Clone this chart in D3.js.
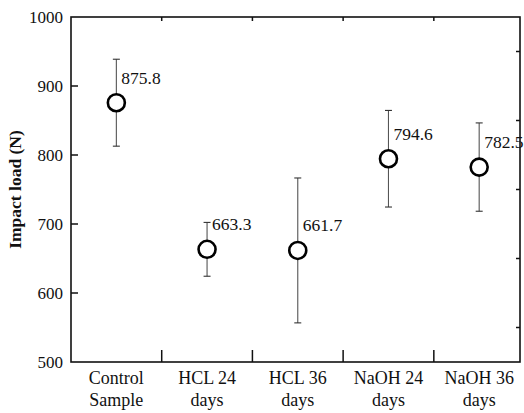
<!DOCTYPE html>
<html>
<head>
<meta charset="utf-8">
<script src="https://cdn.jsdelivr.net/npm/d3@7"></script>
<style>
  body { margin: 0; background: #fff; }
  text { font-family: "Liberation Serif", "Times New Roman", serif; fill: #111; }
</style>
</head>
<body>
<div id="chart"></div>
<script>
// samples and their impact load (mean and spread of the error bar)
var categories = [["Control", "Sample"], ["HCL 24", "days"], ["HCL 36", "days"], ["NaOH 24", "days"], ["NaOH 36", "days"]];
var means = [875.8, 663.3, 661.7, 794.6, 782.5];
var errors = [63, 39, 105, 70, 64];
var yTicks = [500, 600, 700, 800, 900, 1000];
var yMinorTicks = [550, 650, 750, 850, 950];

var margin = {top: 17, right: 4, bottom: 51, left: 71};
var width = 524 - margin.left - margin.right;
var height = 413 - margin.top - margin.bottom;

var svg = d3.select("#chart")
  .append("svg")
  .attr("width", width + margin.left + margin.right)
  .attr("height", height + margin.top + margin.bottom)
  .append("g")
  .attr("transform", "translate(" + margin.left + "," + margin.top + ")");

var x = d3.scaleLinear().domain([-0.5, 4.45]).range([0, width]);
var y = d3.scaleLinear().domain([500, 1000]).range([height, 0]);

var seps = d3.range(categories.length - 1).map(function(i) { return i + 0.5; });

// left axis labels; the ticks themselves point inward and are drawn below
var yAxis = d3.axisLeft(y).tickValues(yTicks).tickFormat(d3.format("d")).tickSize(0).tickPadding(8);
var gy = svg.append("g").call(yAxis).attr("font-family", null).attr("font-size", null);
gy.select(".domain").remove();
gy.selectAll("text").style("font-size", "17px").attr("fill", "#111");

svg.selectAll("line.ltick")
  .data(yTicks.slice(1, -1))
  .enter().append("line")
  .attr("class", "ltick")
  .attr("x1", 0).attr("x2", 7)
  .attr("y1", function(d) { return y(d); })
  .attr("y2", function(d) { return y(d); })
  .attr("stroke", "#111").attr("stroke-width", 1.5);

// right side minor ticks
svg.selectAll("line.rtick")
  .data(yMinorTicks)
  .enter().append("line")
  .attr("class", "rtick")
  .attr("x1", width - 4).attr("x2", width)
  .attr("y1", function(d) { return y(d); })
  .attr("y2", function(d) { return y(d); })
  .attr("stroke", "#111").attr("stroke-width", 1.5);

// category separators on bottom and top
svg.selectAll("line.btick")
  .data(seps)
  .enter().append("line")
  .attr("class", "btick")
  .attr("x1", function(d) { return x(d); })
  .attr("x2", function(d) { return x(d); })
  .attr("y1", height).attr("y2", height - 12)
  .attr("stroke", "#111").attr("stroke-width", 1.5);

svg.selectAll("line.ttick")
  .data(seps)
  .enter().append("line")
  .attr("class", "ttick")
  .attr("x1", function(d) { return x(d); })
  .attr("x2", function(d) { return x(d); })
  .attr("y1", 0).attr("y2", 4)
  .attr("stroke", "#111").attr("stroke-width", 1.5);

// frame
svg.append("rect")
  .attr("width", width)
  .attr("height", height)
  .attr("fill", "none")
  .attr("stroke", "#111")
  .attr("stroke-width", 1.6);

// category labels, two lines each
var cat = svg.selectAll("text.cat")
  .data(categories)
  .enter().append("text")
  .attr("class", "cat")
  .attr("text-anchor", "middle")
  .style("font-size", "18px")
  .attr("transform", function(d, i) { return "translate(" + x(i) + "," + (height + 22) + ")"; });

cat.append("tspan").attr("x", 0).attr("y", 0).text(function(d) { return d[0]; });
cat.append("tspan").attr("x", 0).attr("y", 22).text(function(d) { return d[1]; });

// y title
svg.append("text")
  .attr("transform", "translate(" + (-50) + "," + (height / 2) + ") rotate(-90)")
  .attr("text-anchor", "middle")
  .style("font-size", "17.5px")
  .style("font-weight", "bold")
  .text("Impact load (N)");

// error bars
var pts = svg.selectAll("g.pt")
  .data(means)
  .enter().append("g")
  .attr("class", "pt");

pts.append("line")
  .attr("x1", function(d, i) { return x(i); })
  .attr("x2", function(d, i) { return x(i); })
  .attr("y1", function(d, i) { return y(d + errors[i]); })
  .attr("y2", function(d, i) { return y(d - errors[i]); })
  .attr("stroke", "#555").attr("stroke-width", 1.1);

[1, -1].forEach(function(s) {
  pts.append("line")
    .attr("x1", function(d, i) { return x(i) - 3.5; })
    .attr("x2", function(d, i) { return x(i) + 3.5; })
    .attr("y1", function(d, i) { return y(d + s * errors[i]); })
    .attr("y2", function(d, i) { return y(d + s * errors[i]); })
    .attr("stroke", "#333").attr("stroke-width", 1.1);
});

pts.append("circle")
  .attr("cx", function(d, i) { return x(i); })
  .attr("cy", function(d) { return y(d); })
  .attr("r", 8.5)
  .attr("fill", "#fff")
  .attr("stroke", "#000")
  .attr("stroke-width", 2.6);

pts.append("text")
  .attr("x", function(d, i) { return x(i) + 5; })
  .attr("y", function(d) { return y(d) - 19; })
  .style("font-size", "17.5px")
  .text(function(d) { return d.toFixed(1); });
</script>
</body>
</html>
